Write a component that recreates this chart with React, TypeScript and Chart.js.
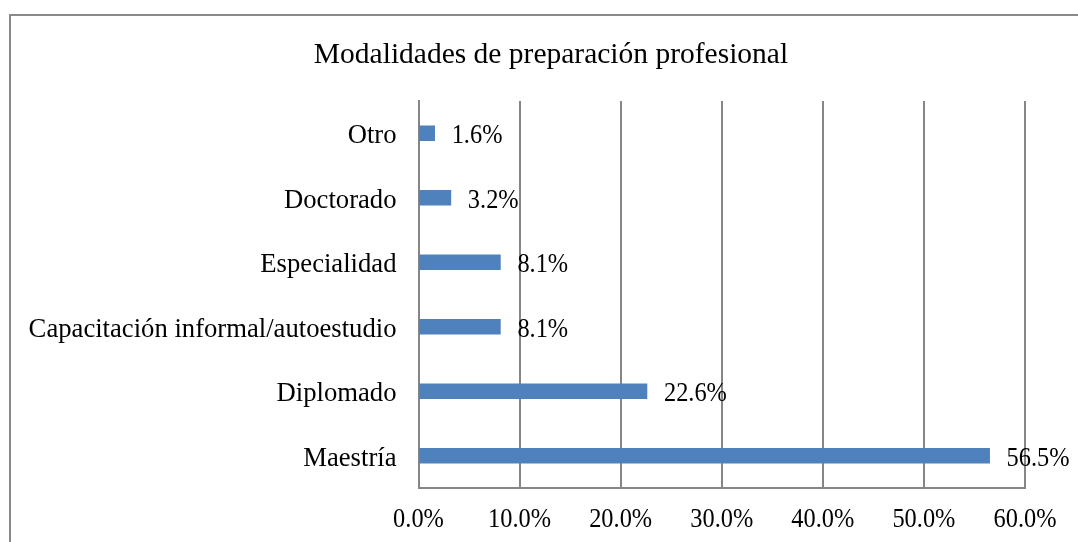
import { useEffect, useRef } from 'react';
import { Chart, registerables } from 'chart.js';

Chart.register(...registerables);

const TITLE = 'Modalidades de preparación profesional';
const categories = ['Otro', 'Doctorado', 'Especialidad', 'Capacitación informal/autoestudio', 'Diplomado', 'Maestría'];
const values = [1.6, 3.2, 8.1, 8.1, 22.6, 56.5];
const xMin = 0;
const xMax = 60;
const xStep = 10;

const FONT = "'Liberation Serif', 'Times New Roman', serif";
const GRID = '#868686';

const customPlugin = {
  id: 'customDraw',
  beforeDraw(chart: any) {
    const ctx = chart.ctx;
    ctx.save();
    ctx.strokeStyle = '#898989';
    ctx.lineWidth = 2;
    ctx.strokeRect(10, 15, 1200, 700);
    ctx.restore();
  },
  afterDraw(chart: any) {
    const ctx = chart.ctx;
    ctx.save();
    // title
    ctx.fillStyle = '#000';
    ctx.font = `29.5px ${FONT}`;
    ctx.textAlign = 'center';
    ctx.textBaseline = 'middle';
    ctx.fillText(TITLE, 551, 55);

    // x tick labels (slightly condensed)
    const xs = chart.scales.x;
    ctx.font = `26.5px ${FONT}`;
    xs.ticks.forEach((t: any, i: number) => {
      const px = xs.getPixelForTick(i);
      const label = Number(t.value).toFixed(1) + '%';
      ctx.save();
      ctx.translate(px, 520);
      ctx.scale(0.92, 1);
      ctx.textAlign = 'center';
      ctx.textBaseline = 'middle';
      ctx.fillText(label, 0, 0);
      ctx.restore();
    });

    // data labels
    const meta = chart.getDatasetMeta(0);
    meta.data.forEach((bar: any, i: number) => {
      const v = chart.data.datasets[0].data[i];
      ctx.save();
      ctx.translate(bar.x + 17, bar.y + 3);
      ctx.scale(0.92, 1);
      ctx.textAlign = 'left';
      ctx.textBaseline = 'middle';
      ctx.fillText(Number(v).toFixed(1) + '%', 0, 0);
      ctx.restore();
    });
    ctx.restore();
  },
};

export default function App() {
  const ref = useRef<HTMLCanvasElement | null>(null);
  useEffect(() => {
    if (!ref.current) return;
    const chart = new Chart(ref.current, {
      type: 'bar',
      data: {
        labels: categories,
        datasets: [
          {
            data: values,
            backgroundColor: '#4F81BD',
            borderWidth: 0,
            barThickness: 15,
          },
        ],
      },
      options: {
        indexAxis: 'y',
        responsive: false,
        animation: false,
        devicePixelRatio: 1,
        layout: { padding: { top: 101, left: 0, right: 53, bottom: 0 } },
        plugins: {
          legend: { display: false },
          title: { display: false },
          tooltip: { enabled: false },
        },
        scales: {
          x: {
            min: xMin,
            max: xMax,
            ticks: {
              stepSize: xStep,
              color: 'rgba(0,0,0,0)',
              font: { family: FONT, size: 26 },
              callback: (v: any) => Number(v).toFixed(1) + '%',
            },
            grid: { color: GRID, lineWidth: 2, drawTicks: false },
            border: { display: true, color: GRID, width: 2 },
            afterFit: (s: any) => {
              s.height = 54;
            },
          },
          y: {
            ticks: {
              color: '#000',
              font: { family: FONT, size: 26.67 },
              padding: 22,
              labelOffset: 3,
            },
            grid: { display: false, drawTicks: false },
            border: { display: true, color: GRID, width: 2 },
            afterFit: (s: any) => {
              s.width = 418.5;
            },
          },
        },
      },
      plugins: [customPlugin],
    });
    return () => chart.destroy();
  }, []);
  return (
    <div style={{ position: 'absolute', left: 0, top: 0, width: 1078, height: 542, background: '#fff' }}>
      <canvas ref={ref} width={1078} height={542} style={{ display: 'block', width: 1078, height: 542 }} />
    </div>
  );
}
